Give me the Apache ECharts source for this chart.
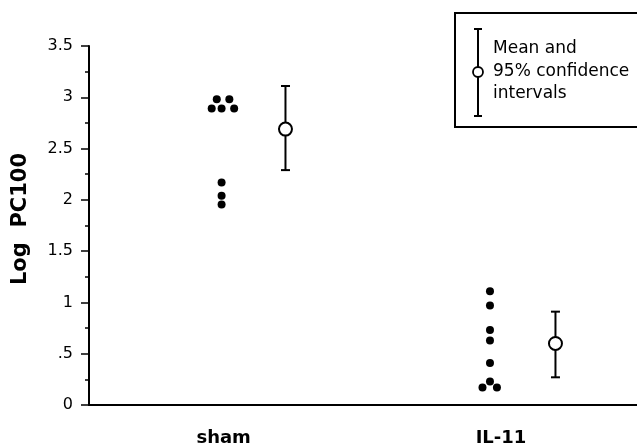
<!DOCTYPE html>
<html><head><meta charset="utf-8">
<script src="https://cdn.jsdelivr.net/npm/echarts@6/dist/echarts.min.js"></script>
<style>html,body{margin:0;padding:0;background:#fff}#c{width:637px;height:447px}</style>
</head><body><div id="c"></div>
<script>
const categories = ['sham', 'IL-11'];
const categoryPositions = [1, 2];
const shamValues = [2.98, 2.98, 2.89, 2.89, 2.89, 2.17, 2.04, 1.955];
const shamJitter = [-0.022, 0.025, -0.041, -0.004, 0.043, -0.004, -0.004, -0.004];
const il11Values = [1.11, 0.97, 0.73, 0.63, 0.41, 0.23, 0.17, 0.17];
const il11Jitter = [0, 0, 0, 0, 0, 0, -0.028, 0.026];
const meanValues = [2.69, 0.60];
const ciLower = [2.29, 0.27];
const ciUpper = [3.11, 0.91];
const meanOffset = [0.235, 0.245];
const yTickValues = [0, 0.5, 1, 1.5, 2, 2.5, 3, 3.5];
const yTickLabels = ['0', '.5', '1', '1.5', '2', '2.5', '3', '3.5'];
const yAxisTitle = 'Log  PC100';
const legendLines = ['Mean and', '95% confidence', 'intervals'];

const FONT = '"DejaVu Sans", Verdana, sans-serif';

const dots = [];
shamValues.forEach((v, i) => dots.push([categoryPositions[0] + shamJitter[i], v]));
il11Values.forEach((v, i) => dots.push([categoryPositions[1] + il11Jitter[i], v]));
const means = meanValues.map((v, i) => [categoryPositions[i] + meanOffset[i], v]);
const bars = meanValues.map((v, i) => [categoryPositions[i] + meanOffset[i], ciLower[i], ciUpper[i]]);

const chart = echarts.init(document.getElementById('c'), null, {renderer: 'canvas'});
chart.setOption({
  animation: false,
  backgroundColor: '#fff',
  grid: {left: 89, right: 0, top: 46, bottom: 42, containLabel: false, outerBoundsMode: 'none'},
  xAxis: {
    type: 'value', min: 0.5, max: 2.55, interval: 0.5,
    axisLine: {show: true, onZero: false, lineStyle: {color: '#000', width: 2}},
    axisTick: {show: false},
    splitLine: {show: false},
    axisLabel: {
      margin: 24,
      formatter: v => {
        const idx = categoryPositions.findIndex(p => Math.abs(p - v) < 1e-6);
        if (idx < 0) return '';
        return idx === 1 ? '{r|' + categories[idx] + '}' : '{l|' + categories[idx] + '}';
      },
      rich: {
        l: {fontFamily: FONT, fontSize: 18, fontWeight: 'bold', color: '#000', padding: [0, 0, 0, 2]},
        r: {fontFamily: FONT, fontSize: 18, fontWeight: 'bold', color: '#000', padding: [0, 0, 0, 22]}
      }
    }
  },
  yAxis: {
    type: 'value', min: 0, max: 3.5, interval: 0.5,
    axisLine: {show: true, lineStyle: {color: '#000', width: 2}},
    axisTick: {show: true, length: 8, lineStyle: {color: '#000', width: 1.5}},
    minorTick: {show: true, splitNumber: 2, length: 4, lineStyle: {color: '#000', width: 1.5}},
    splitLine: {show: false},
    axisLabel: {
      margin: 16, color: '#000', fontFamily: FONT, fontSize: 16,
      formatter: v => {
        const idx = yTickValues.findIndex(t => Math.abs(t - v) < 1e-6);
        return idx < 0 ? '' : yTickLabels[idx];
      }
    }
  },
  series: [
    {
      type: 'scatter', data: dots, symbol: 'circle', symbolSize: 8,
      itemStyle: {color: '#000', opacity: 1}, z: 3
    },
    {
      type: 'custom', data: bars, encode: {x: 0, y: [1, 2]}, z: 4,
      renderItem: (params, api) => {
        const x = api.value(0), lo = api.value(1), hi = api.value(2);
        const pT = api.coord([x, hi]), pB = api.coord([x, lo]);
        const cap = 4.5;
        const st = {stroke: '#000', lineWidth: 2, fill: null};
        return {type: 'group', children: [
          {type: 'line', shape: {x1: pT[0], y1: pT[1], x2: pB[0], y2: pB[1]}, style: st},
          {type: 'line', shape: {x1: pT[0] - cap, y1: pT[1], x2: pT[0] + cap, y2: pT[1]}, style: st},
          {type: 'line', shape: {x1: pB[0] - cap, y1: pB[1], x2: pB[0] + cap, y2: pB[1]}, style: st}
        ]};
      }
    },
    {
      type: 'scatter', data: means, symbol: 'circle', symbolSize: 13,
      itemStyle: {color: '#fff', borderColor: '#000', borderWidth: 2, opacity: 1}, z: 5
    }
  ],
  graphic: [
    {
      type: 'text', x: 21, y: 219, rotation: Math.PI / 2,
      style: {text: yAxisTitle, font: 'bold 21px ' + FONT, fill: '#000', align: 'center', verticalAlign: 'middle'}
    },
    {
      type: 'rect', shape: {x: 455, y: 13, width: 200, height: 114},
      style: {fill: '#fff', stroke: '#000', lineWidth: 2}, z: 10
    },
    {type: 'line', shape: {x1: 478, y1: 29, x2: 478, y2: 116}, style: {stroke: '#000', lineWidth: 2}, z: 11},
    {type: 'line', shape: {x1: 474, y1: 29, x2: 482, y2: 29}, style: {stroke: '#000', lineWidth: 2}, z: 11},
    {type: 'line', shape: {x1: 474, y1: 116, x2: 482, y2: 116}, style: {stroke: '#000', lineWidth: 2}, z: 11},
    {type: 'circle', shape: {cx: 478, cy: 72, r: 5}, style: {fill: '#fff', stroke: '#000', lineWidth: 1.8}, z: 12},
    {type: 'text', x: 493, y: 49, style: {text: legendLines[0], font: '17px ' + FONT, fill: '#000', verticalAlign: 'middle'}, z: 12},
    {type: 'text', x: 493, y: 72, style: {text: legendLines[1], font: '17px ' + FONT, fill: '#000', verticalAlign: 'middle'}, z: 12},
    {type: 'text', x: 493, y: 94, style: {text: legendLines[2], font: '17px ' + FONT, fill: '#000', verticalAlign: 'middle'}, z: 12}
  ]
});
</script>
</body></html>
